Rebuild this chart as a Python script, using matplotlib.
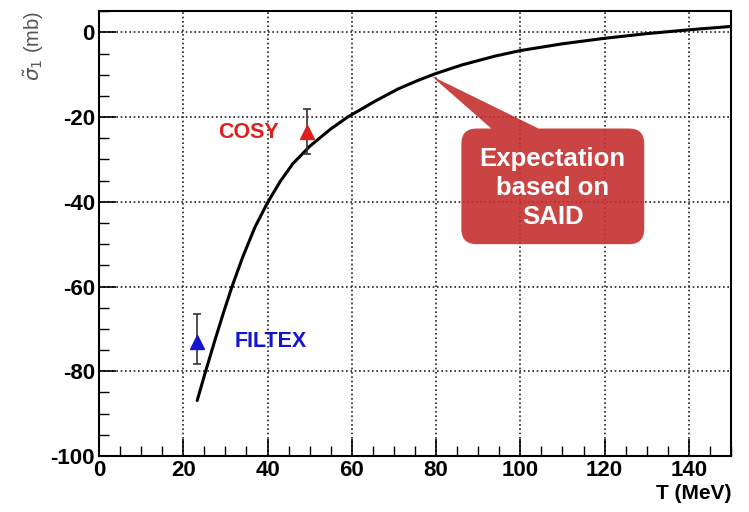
import matplotlib
matplotlib.use("Agg")
import matplotlib.pyplot as plt
from matplotlib.path import Path
from matplotlib.patches import PathPatch
from matplotlib.ticker import MultipleLocator

plt.rcParams['font.family'] = ['Liberation Sans Narrow', 'Liberation Sans', 'DejaVu Sans']
plt.rcParams['axes.unicode_minus'] = False

# SAID expectation curve
said_T = [23.3, 25.3, 27.5, 29.5, 31.5, 34.0, 37.0, 40.0, 43.0, 46.0, 50.0, 55.0, 59.0,
          65.6, 71.1, 75.8, 80.0, 86.1, 94.0, 100.0, 110.0, 120.0, 130.0, 140.0, 150.0]
said_sigma = [-86.9, -80.0, -72.7, -66.3, -60.2, -53.3, -46.0, -40.2, -35.2, -31.0, -26.9,
              -22.8, -20.0, -16.2, -13.3, -11.3, -9.7, -7.7, -5.6, -4.3, -2.7, -1.4, -0.3,
              0.6, 1.4]

# Measurements
exp_names = ["COSY", "FILTEX"]
exp_T = [49.3, 23.2]
exp_sigma = [-23.6, -73.0]
exp_err_lo = [5.2, 5.2]
exp_err_hi = [5.6, 6.5]
exp_colors = ["#E01E1E", "#1414D2"]
label_T = [35.5, 40.8]

xticks = [0, 20, 40, 60, 80, 100, 120, 140]
yticks = [0, -20, -40, -60, -80, -100]

fig = plt.figure(figsize=(7.49, 5.12), dpi=100)
ax = fig.add_axes([0.1322, 0.1094, 0.976 - 0.1322, 0.979 - 0.1094])
ax.set_xlim(0, 150)
ax.set_ylim(-100, 5.1)

ax.set_xticks(xticks)
ax.set_yticks(yticks)
ax.xaxis.set_minor_locator(MultipleLocator(5))
ax.yaxis.set_minor_locator(MultipleLocator(5))
ax.tick_params(which='major', direction='in', length=12, width=1.2, top=False, right=False,
               labelsize=16, pad=3)
ax.tick_params(which='minor', direction='in', length=7, width=1.0, top=False, right=False)
for lab in ax.get_xticklabels() + ax.get_yticklabels():
    lab.set_fontweight('bold')
for s in ax.spines.values():
    s.set_linewidth(1.5)

ax.grid(True, which='major', color='#222222', linestyle=(0, (1, 1.6)), linewidth=1.2)
ax.set_axisbelow(True)

ax.plot(said_T, said_sigma, color='black', linewidth=2.2, zorder=3,
        solid_joinstyle='round', solid_capstyle='round')

for name, t, s, lo, hi, c, lt in zip(exp_names, exp_T, exp_sigma, exp_err_lo, exp_err_hi, exp_colors, label_T):
    ax.errorbar([t], [s], yerr=[[lo], [hi]], fmt='none', ecolor='#333333', elinewidth=1.2,
                capsize=3, capthick=1.2, zorder=4)
    ax.plot([t], [s], marker='^', color=c, markersize=10, linestyle='none', zorder=5)
    ax.text(lt, s, name, color=c, fontsize=15.5, fontweight='bold', ha='center', va='center',
            family=['Liberation Sans', 'DejaVu Sans'], zorder=5)

# Callout
x0, x1, y0, y1, r = 86.0, 129.4, -50.0, -22.7, 3.6
tip = (78.9, -10.3)
bx0, bx1 = 93.1, 104.3
verts = [(x0 + r, y1), (bx0, y1), tip, (bx1, y1), (x1 - r, y1),
         (x1, y1), (x1, y1 - r),
         (x1, y0 + r),
         (x1, y0), (x1 - r, y0),
         (x0 + r, y0),
         (x0, y0), (x0, y0 + r),
         (x0, y1 - r),
         (x0, y1), (x0 + r, y1),
         (x0 + r, y1)]
codes = [Path.MOVETO, Path.LINETO, Path.LINETO, Path.LINETO, Path.LINETO,
         Path.CURVE3, Path.CURVE3,
         Path.LINETO,
         Path.CURVE3, Path.CURVE3,
         Path.LINETO,
         Path.CURVE3, Path.CURVE3,
         Path.LINETO,
         Path.CURVE3, Path.CURVE3,
         Path.CLOSEPOLY]
ax.add_patch(PathPatch(Path(verts, codes), facecolor='#C62F30', edgecolor='none', alpha=0.9, zorder=6))
ax.text((x0 + x1) / 2, -36.7, "Expectation\nbased on\nSAID", color='white', fontsize=18.5,
        fontweight='bold', ha='center', va='center', linespacing=1.28,
        family=['Liberation Sans', 'DejaVu Sans'], zorder=7)

fig.text(0.977, 0.037, "T (MeV)", ha='right', va='center', fontsize=15, fontweight='bold')
fig.text(0.045, 0.978, r"$\tilde{\sigma}_1$ (mb)", ha='center', va='top', rotation=90,
         fontsize=14.5, color='#555555', family=['Liberation Sans', 'DejaVu Sans'])

fig.savefig("out.png", dpi=100)
